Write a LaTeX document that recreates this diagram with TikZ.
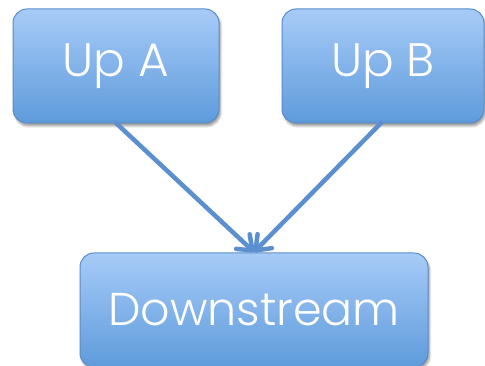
\documentclass[tikz,border=0pt]{standalone}
\usepackage{fontspec}
\setmainfont{Poppins}[UprightFont=* Light]
\usetikzlibrary{arrows.meta,shadows.blur,calc}
\definecolor{boxtop}{HTML}{A7CBF8}
\definecolor{boxbot}{HTML}{5E9BDB}
\definecolor{boxline}{HTML}{5A8CC8}
\definecolor{arrowc}{HTML}{5B8FD0}
\tikzset{
  box/.style={draw=boxline, line width=1pt, rounded corners=14pt,
    top color=boxtop, bottom color=boxbot, text=white,
    blur shadow={shadow xshift=1.5pt, shadow yshift=-3pt, shadow blur steps=6, shadow opacity=40},
    inner sep=0pt, font=\fontsize{47}{47}\selectfont},
  conn/.style={draw=arrowc, line width=4.5pt, line cap=round,
    -{Straight Barb[length=13pt, width=20pt, line width=4.5pt, round]}}
}
\begin{document}
\begin{tikzpicture}[x=1pt,y=-1pt]
\useasboundingbox (0,0) rectangle (485,366);
\node[box, minimum width=206pt, minimum height=114pt] (a) at (116,66) {Up A};
\node[box, minimum width=202pt, minimum height=114pt] (b) at (383,66) {Up B};
\node[box, minimum width=348pt, minimum height=114pt, font=\fontsize{46}{46}\selectfont] (d) at (254,310) {Downstream};
\coordinate (as) at (116,123);
\coordinate (bs) at (381,123);
\coordinate (tip) at (254,252);
\draw[conn] (as) -- (tip);
\draw[conn] (bs) -- (tip);
\end{tikzpicture}
\end{document}
